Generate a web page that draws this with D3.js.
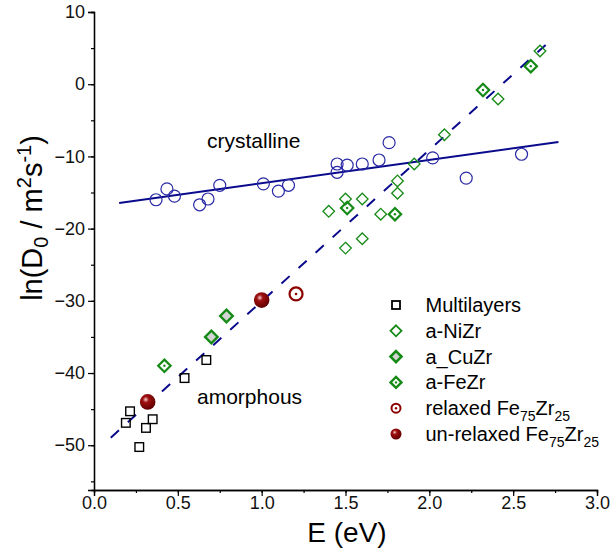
<!DOCTYPE html>
<html><head><meta charset="utf-8">
<script src="https://cdn.jsdelivr.net/npm/d3@7"></script>
<style>body{margin:0;background:#fff}svg text{font-family:"Liberation Sans",Arial,sans-serif}</style>
</head><body>
<svg id="c" width="613" height="551"></svg>
<script>
const xTicks=[0,0.5,1,1.5,2,2.5,3];
const yTicks=[10,0,-10,-20,-30,-40,-50];
const crystalline=[[0.37,-16.0],[0.435,-14.5],[0.48,-15.5],[0.63,-16.7],[0.68,-15.9],[0.75,-14.0],[1.01,-13.8],[1.10,-14.8],[1.16,-14.0],[1.45,-11.05],[1.51,-11.2],[1.45,-12.2],[1.60,-11.05],[1.70,-10.5],[1.76,-8.1],[2.02,-10.2],[2.22,-13.0],[2.55,-9.7]];
const multilayers=[[0.215,-45.3],[0.19,-46.9],[0.35,-46.4],[0.31,-47.6],[0.27,-50.25],[0.54,-40.7],[0.67,-38.2]];
const niZr=[[2.09,-7.0],[1.91,-11.05],[1.81,-13.4],[1.81,-15.1],[1.50,-15.9],[1.60,-15.9],[1.40,-17.6],[1.71,-18.0],[1.60,-21.4],[1.50,-22.7],[2.66,4.6],[2.41,-2.05]];
const cuZr=[[0.79,-32.1],[0.70,-35.0]];
const feZr=[[1.51,-17.15],[1.795,-18.0],[2.605,2.5],[2.32,-0.8],[0.42,-39.0]];
const relaxed=[[1.205,-29.05]];
const unrelaxed=[[1.0,-29.9],[0.32,-44.0]];
const crystFit=[[0.15,-16.45],[2.77,-8.0]];
const amorFit=[[0.10,-48.95],[2.725,6.1]];

const svg=d3.select("#c");
const x=d3.scaleLinear().domain([0,3]).range([94,597]);
const y=d3.scaleLinear().domain([-56.2,10]).range([490,12]);
const navy="#0a0a8c", cblue="#2a2aa6", green="#168a16", red="#8b0000";

const defs=svg.append("defs");
const g=defs.append("radialGradient").attr("id","sph").attr("cx","0.38").attr("cy","0.35").attr("r","0.65");
g.append("stop").attr("offset","0").attr("stop-color","#f4d0d0");
g.append("stop").attr("offset","0.3").attr("stop-color","#a01010");
g.append("stop").attr("offset","1").attr("stop-color","#600000");

// axes
const xa=svg.append("g").attr("transform",`translate(0,${y.range()[0]})`);
xa.call(d3.axisBottom(x).tickValues(d3.range(0,3.01,0.25)).tickSize(3).tickFormat(""));
xa.append("g").call(d3.axisBottom(x).tickValues(xTicks).tickSize(6).tickPadding(0).tickFormat(d3.format(".1f")));
const ya=svg.append("g").attr("transform",`translate(${x(0)},0)`);
ya.call(d3.axisLeft(y).tickValues(d3.range(-55,10.1,5)).tickSize(3).tickFormat(""));
ya.append("g").call(d3.axisLeft(y).tickValues(yTicks).tickSize(6).tickPadding(3).tickFormat(d3.format("d")));
svg.selectAll(".domain").attr("stroke","#000").attr("stroke-width",1.3);
svg.selectAll(".tick line").attr("stroke","#000").attr("stroke-width",1.2);
svg.selectAll(".tick text").attr("font-size",18).attr("fill","#111").attr("font-family","Liberation Sans, Arial, sans-serif");

// axis titles
svg.append("text").attr("x",347).attr("y",542).attr("text-anchor","middle").attr("font-size",28).text("E (eV)");
const yt=svg.append("text").attr("transform","translate(42,218) rotate(-90)").attr("text-anchor","middle").attr("font-size",29);
yt.append("tspan").text("ln(D");
yt.append("tspan").attr("font-size",20).attr("dy",6).text("0");
yt.append("tspan").attr("dy",-6).text(" / m");
yt.append("tspan").attr("font-size",20).attr("dy",-11).text("2");
yt.append("tspan").attr("dy",11).text("s");
yt.append("tspan").attr("font-size",20).attr("dy",-11).text("-1");
yt.append("tspan").attr("dy",11).text(")");

// fit lines
const line=d3.line().x(d=>x(d[0])).y(d=>y(d[1]));
svg.append("path").datum(amorFit).attr("d",line).attr("stroke",navy).attr("stroke-width",2).attr("fill","none").attr("stroke-dasharray","11,12");
svg.append("path").datum(crystFit).attr("d",line).attr("stroke",navy).attr("stroke-width",2).attr("fill","none");

// markers
function diamond(sel,data,opt){
  const s=opt.s;
  sel.selectAll(null).data(data).enter().append("path")
   .attr("d",d=>`M${x(d[0])},${y(d[1])-s}L${x(d[0])+s},${y(d[1])}L${x(d[0])},${y(d[1])+s}L${x(d[0])-s},${y(d[1])}Z`)
   .attr("fill",opt.fill||"none").attr("stroke",green).attr("stroke-width",opt.w);
  if(opt.dot) sel.selectAll(null).data(data).enter().append("circle").attr("cx",d=>x(d[0])).attr("cy",d=>y(d[1])).attr("r",1.2).attr("fill",green);
}
const pts=svg.append("g");
pts.selectAll(null).data(crystalline).enter().append("circle").attr("cx",d=>x(d[0])).attr("cy",d=>y(d[1])).attr("r",6).attr("fill","none").attr("stroke",cblue).attr("stroke-width",1.2);
pts.selectAll(null).data(multilayers).enter().append("rect").attr("x",d=>x(d[0])-4.3).attr("y",d=>y(d[1])-4.3).attr("width",8.6).attr("height",8.6).attr("fill","none").attr("stroke","#000").attr("stroke-width",1.4);
diamond(pts,niZr,{s:5.8,w:1.3});
diamond(pts,cuZr,{s:6.3,w:2.4,fill:"#d4d4d4"});
diamond(pts,feZr,{s:6.2,w:2.2,dot:true});
pts.selectAll(null).data(relaxed).enter().append("circle").attr("cx",d=>x(d[0])).attr("cy",d=>y(d[1])).attr("r",6.5).attr("fill","none").attr("stroke",red).attr("stroke-width",2.2);
pts.selectAll(null).data(relaxed).enter().append("circle").attr("cx",d=>x(d[0])).attr("cy",d=>y(d[1])).attr("r",1.3).attr("fill",red);
pts.selectAll(null).data(unrelaxed).enter().append("circle").attr("cx",d=>x(d[0])).attr("cy",d=>y(d[1])).attr("r",7.8).attr("fill","url(#sph)");

// labels
svg.append("text").attr("x",207).attr("y",148).attr("font-size",21).text("crystalline");
svg.append("text").attr("x",197).attr("y",404).attr("font-size",21).text("amorphous");

// legend
const lg=svg.append("g");
const lx=396, ly0=305, dy=25.8;
lg.append("rect").attr("x",lx-4).attr("y",ly0-4).attr("width",8).attr("height",8).attr("fill","none").attr("stroke","#000").attr("stroke-width",1.8);
function ldia(cy,opt){
  lg.append("path").attr("d",`M${lx},${cy-5.5}L${lx+5.5},${cy}L${lx},${cy+5.5}L${lx-5.5},${cy}Z`).attr("fill",opt.fill||"none").attr("stroke",green).attr("stroke-width",opt.w);
  if(opt.dot) lg.append("circle").attr("cx",lx).attr("cy",cy).attr("r",1.2).attr("fill",green);
}
ldia(ly0+dy,{w:1.8});
ldia(ly0+2*dy,{w:2.6,fill:"#d4d4d4"});
ldia(ly0+3*dy,{w:2.4,dot:true});
lg.append("circle").attr("cx",lx).attr("cy",ly0+4*dy).attr("r",4.5).attr("fill","none").attr("stroke",red).attr("stroke-width",2);
lg.append("circle").attr("cx",lx).attr("cy",ly0+4*dy).attr("r",1.2).attr("fill",red);
lg.append("circle").attr("cx",lx).attr("cy",ly0+5*dy).attr("r",5.5).attr("fill","url(#sph)");
const tx=425.5, fs=20;
const legendLabels=["Multilayers","a-NiZr","a_CuZr","a-FeZr","relaxed Fe","un-relaxed Fe"];
legendLabels.forEach((lab,i)=>{
  const t=lg.append("text").attr("x",tx).attr("y",ly0+i*dy+7).attr("font-size",fs);
  t.append("tspan").text(lab);
  if(i>=4){
    t.append("tspan").attr("font-size",14).attr("dy",6).text("75");
    t.append("tspan").attr("dy",-6).text("Zr");
    t.append("tspan").attr("font-size",14).attr("dy",6).text("25");
  }
});
</script>
</body></html>
